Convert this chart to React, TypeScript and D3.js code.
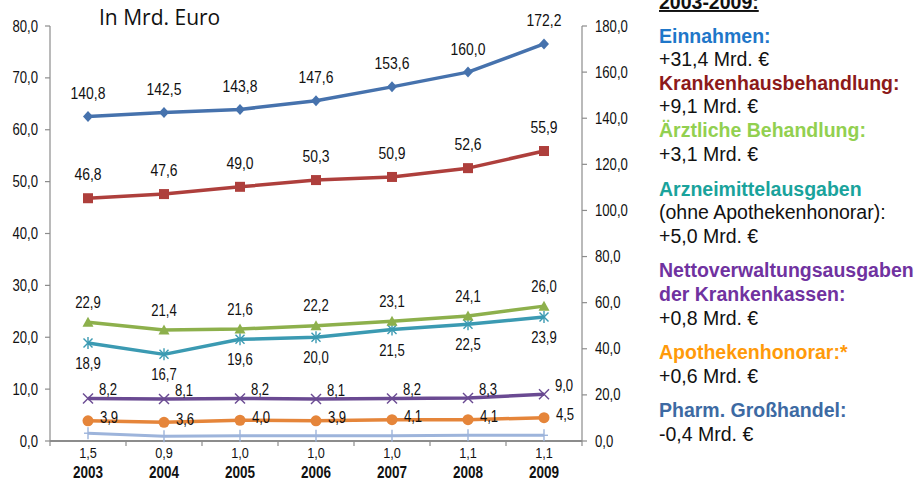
import React from "react";
import * as d3 from "d3";

const years = ["2003", "2004", "2005", "2006", "2007", "2008", "2009"];
const einnahmen = [140.8, 142.5, 143.8, 147.6, 153.6, 160.0, 172.2];
const krankenhaus = [46.8, 47.6, 49.0, 50.3, 50.9, 52.6, 55.9];
const aerztlich = [22.9, 21.4, 21.6, 22.2, 23.1, 24.1, 26.0];
const arznei = [18.9, 16.7, 19.6, 20.0, 21.5, 22.5, 23.9];
const verwaltung = [8.2, 8.1, 8.2, 8.1, 8.2, 8.3, 9.0];
const apotheke = [3.9, 3.6, 4.0, 3.9, 4.1, 4.1, 4.5];
const grosshandel = [1.5, 0.9, 1.0, 1.0, 1.0, 1.1, 1.1];
const leftTicks = [0, 10, 20, 30, 40, 50, 60, 70, 80];
const rightTicks = [0, 20, 40, 60, 80, 100, 120, 140, 160, 180];

const legendLines: { text: string; color: string; bold: boolean; y: number }[] = [
  { text: "Einnahmen:", color: "#1f77c9", bold: true, y: 43 },
  { text: "+31,4 Mrd. €", color: "#111", bold: false, y: 66 },
  { text: "Krankenhausbehandlung:", color: "#8c1a1a", bold: true, y: 90 },
  { text: "+9,1 Mrd. €", color: "#111", bold: false, y: 113 },
  { text: "Ärztliche Behandlung:", color: "#92d050", bold: true, y: 137 },
  { text: "+3,1 Mrd. €", color: "#111", bold: false, y: 161 },
  { text: "Arzneimittelausgaben", color: "#1aa39c", bold: true, y: 196 },
  { text: "(ohne Apothekenhonorar):", color: "#111", bold: false, y: 219 },
  { text: "+5,0 Mrd. €", color: "#111", bold: false, y: 243 },
  { text: "Nettoverwaltungsausgaben", color: "#7032a0", bold: true, y: 277 },
  { text: "der Krankenkassen:", color: "#7032a0", bold: true, y: 301 },
  { text: "+0,8 Mrd. €", color: "#111", bold: false, y: 325 },
  { text: "Apothekenhonorar:*", color: "#ff9a0a", bold: true, y: 359 },
  { text: "+0,6 Mrd. €", color: "#111", bold: false, y: 383 },
  { text: "Pharm. Großhandel:", color: "#3d6aa3", bold: true, y: 417 },
  { text: "-0,4 Mrd. €", color: "#111", bold: false, y: 441 },
];

const fmt = (v: number) => v.toFixed(1).replace(".", ",");
const SANS = "'Liberation Sans', Arial, sans-serif";

function NText({
  x, y, size, anchor = "middle", bold = false, children,
}: { x: number; y: number; size: number; anchor?: string; bold?: boolean; children: React.ReactNode }) {
  return (
    <text
      transform={`translate(${x},${y}) scale(0.82,1)`}
      dy="0.35em"
      textAnchor={anchor as any}
      fontFamily={SANS}
      fontSize={size}
      fontWeight={bold ? "bold" : "normal"}
      fill="#111"
    >
      {children}
    </text>
  );
}

type Marker = "diamond" | "square" | "triangle" | "asterisk" | "x" | "circle" | "plus";

function MarkerShape({ kind, x, y, color }: { kind: Marker; x: number; y: number; color: string }) {
  switch (kind) {
    case "diamond":
      return <path d={`M${x},${y - 5.5}L${x + 5},${y}L${x},${y + 5.5}L${x - 5},${y}Z`} fill={color} />;
    case "square":
      return <rect x={x - 5} y={y - 5} width={10} height={10} fill={color} />;
    case "triangle":
      return <path d={`M${x},${y - 5.5}L${x + 5.5},${y + 4.5}L${x - 5.5},${y + 4.5}Z`} fill={color} />;
    case "asterisk":
      return (
        <g stroke={color} strokeWidth={1.4}>
          <line x1={x - 4.5} y1={y - 4.5} x2={x + 4.5} y2={y + 4.5} />
          <line x1={x - 4.5} y1={y + 4.5} x2={x + 4.5} y2={y - 4.5} />
          <line x1={x} y1={y - 6} x2={x} y2={y + 6} />
        </g>
      );
    case "x":
      return (
        <g stroke={color} strokeWidth={1.4}>
          <line x1={x - 5} y1={y - 5} x2={x + 5} y2={y + 5} />
          <line x1={x - 5} y1={y + 5} x2={x + 5} y2={y - 5} />
        </g>
      );
    case "circle":
      return <circle cx={x} cy={y} r={5.5} fill={color} />;
    case "plus":
      return (
        <g stroke={color} strokeWidth={1.4}>
          <line x1={x - 4} y1={y} x2={x + 4} y2={y} />
          <line x1={x} y1={y - 6} x2={x} y2={y + 6} />
        </g>
      );
  }
  return null;
}

export default function App() {
  const W = 924, H = 482;
  const x = d3.scaleBand<string>().domain(years).range([50, 582]);
  const cx = (yr: string) => (x(yr) as number) + x.bandwidth() / 2;
  const yL = d3.scaleLinear().domain([0, 80]).range([441, 26]);
  const yR = d3.scaleLinear().domain([0, 180]).range([441, 26]);

  const series: {
    values: number[];
    scale: d3.ScaleLinear<number, number>;
    color: string;
    marker: Marker;
    width: number;
    lab: { dx: number; dy: number; size: number; fixedY?: number };
  }[] = [
    { values: grosshandel, scale: yL, color: "#9db4db", marker: "plus", width: 3, lab: { dx: 0, dy: 0, size: 15.5, fixedY: yL(0) + 12 } },
    { values: apotheke, scale: yL, color: "#e5853a", marker: "circle", width: 3.5, lab: { dx: 21, dy: -3, size: 16 } },
    { values: verwaltung, scale: yL, color: "#6a4a92", marker: "x", width: 3.5, lab: { dx: 20, dy: -9, size: 16 } },
    { values: arznei, scale: yL, color: "#3b9ab2", marker: "asterisk", width: 3.5, lab: { dx: 0, dy: 20.5, size: 16 } },
    { values: aerztlich, scale: yL, color: "#8db04c", marker: "triangle", width: 3.5, lab: { dx: 0, dy: -20, size: 16 } },
    { values: krankenhaus, scale: yL, color: "#ae3f3c", marker: "square", width: 3.5, lab: { dx: 0, dy: -24, size: 17 } },
    { values: einnahmen, scale: yR, color: "#4672ad", marker: "diamond", width: 3.5, lab: { dx: 0, dy: -23.5, size: 17 } },
  ];

  const axisColor = "#8c8c8c";

  return (
    <svg width={W} height={H} style={{ position: "absolute", left: 0, top: 0, background: "#fff" }}>
      {/* axes */}
      <g stroke={axisColor} strokeWidth={1.2}>
        <line x1={50} y1={26} x2={50} y2={441} />
        {leftTicks.map((t) => (
          <line key={"lt" + t} x1={45} x2={50} y1={yL(t)} y2={yL(t)} />
        ))}
        <line x1={582} y1={26} x2={582} y2={441} />
        {rightTicks.map((t) => (
          <line key={"rt" + t} x1={582} x2={587} y1={yR(t)} y2={yR(t)} />
        ))}
        <line x1={50} y1={441} x2={582} y2={441} strokeWidth={2} />
        {years.map((yr) => (
          <line key={"xt" + yr} x1={x(yr) as number} x2={x(yr) as number} y1={441} y2={446} />
        ))}
        <line x1={582} x2={582} y1={441} y2={446} />
      </g>
      {leftTicks.map((t) => (
        <NText key={"ll" + t} x={38} y={yL(t)} size={16} anchor="end">
          {fmt(t)}
        </NText>
      ))}
      {rightTicks.map((t) => (
        <NText key={"rl" + t} x={595} y={yR(t)} size={16} anchor="start">
          {fmt(t)}
        </NText>
      ))}
      {years.map((yr) => (
        <NText key={"yl" + yr} x={cx(yr)} y={472.5} size={16.5} bold>
          {yr}
        </NText>
      ))}
      <text x={99} y={25} fontFamily="'Open Sans', sans-serif" fontSize={21} fill="#111">
        In Mrd. Euro
      </text>

      {/* series */}
      {series.map((s, i) => {
        const line = d3
          .line<number>()
          .x((_, j) => cx(years[j]))
          .y((v) => s.scale(v));
        return (
          <g key={"s" + i}>
            <path d={line(s.values) || ""} fill="none" stroke={s.color} strokeWidth={s.width} strokeLinejoin="round" />
            {s.values.map((v, j) => (
              <MarkerShape key={j} kind={s.marker} x={cx(years[j])} y={s.scale(v)} color={s.color} />
            ))}
            {s.values.map((v, j) => (
              <NText
                key={"t" + j}
                x={cx(years[j]) + s.lab.dx}
                y={s.lab.fixedY !== undefined ? s.lab.fixedY : s.scale(v) + s.lab.dy}
                size={s.lab.size}
              >
                {fmt(v)}
              </NText>
            ))}
          </g>
        );
      })}

      {/* legend text */}
      <text x={659} y={9} fontFamily={SANS} fontSize={19.5} fontWeight="bold" fill="#111" textDecoration="underline">
        2003-2009:
      </text>
      {legendLines.map((l, i) => (
        <text
          key={"lg" + i}
          x={659}
          y={l.y}
          fontFamily={SANS}
          fontSize={19.5}
          fontWeight={l.bold ? "bold" : "normal"}
          fill={l.color}
        >
          {l.text}
        </text>
      ))}
    </svg>
  );
}
